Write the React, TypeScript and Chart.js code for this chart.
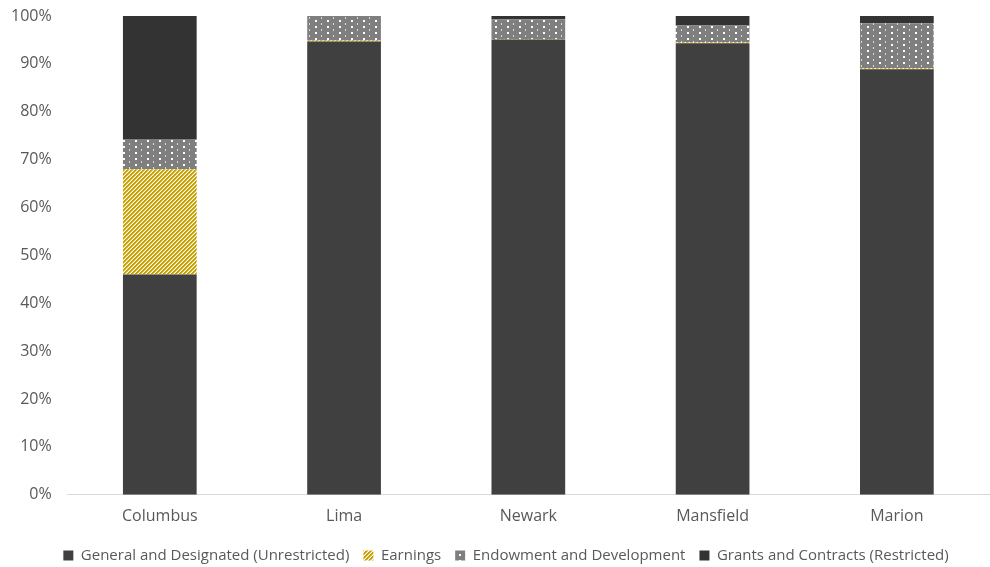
import React, { useEffect, useRef } from "react";
import { Chart, registerables } from "chart.js";

Chart.register(...registerables);

const categories = ["Columbus", "Lima", "Newark", "Mansfield", "Marion"];
const generalValues = [46.0, 94.7, 95.1, 94.3, 88.9];
const earningsValues = [22.0, 0.2, 0.1, 0.2, 0.2];
const endowmentValues = [6.3, 5.1, 4.1, 3.5, 9.4];
const grantsValues = [25.7, 0.0, 0.7, 2.0, 1.5];
const yTicks = [0, 10, 20, 30, 40, 50, 60, 70, 80, 90, 100];

function stripePattern(): CanvasPattern | string {
  const s = 4;
  const c = document.createElement("canvas");
  c.width = s;
  c.height = s;
  const ctx = c.getContext("2d");
  if (!ctx) return "#c9a000";
  for (let y = 0; y < s; y++) {
    for (let x = 0; x < s; x++) {
      const m = (x + y) % s;
      ctx.fillStyle = m < 2 ? "#c9a000" : m === 2 ? "#e2c96a" : "#ffffff";
      ctx.fillRect(x, y, 1, 1);
    }
  }
  return ctx.createPattern(c, "repeat") as CanvasPattern;
}

function dotPattern(): CanvasPattern | string {
  const c = document.createElement("canvas");
  c.width = 12;
  c.height = 12;
  const ctx = c.getContext("2d");
  if (!ctx) return "#7f7f7f";
  ctx.fillStyle = "#7f7f7f";
  ctx.fillRect(0, 0, 12, 12);
  ctx.fillStyle = "#ffffff";
  ctx.fillRect(3, 2, 2, 2);
  ctx.fillRect(3, 8, 2, 2);
  ctx.fillStyle = "rgba(255,255,255,0.7)";
  ctx.fillRect(9, 5, 1, 2);
  ctx.fillRect(9, 11, 1, 1);
  ctx.fillRect(9, 0, 1, 1);
  return ctx.createPattern(c, "repeat") as CanvasPattern;
}

const legendTweak = {
  id: "legendTweak",
  beforeInit(chart: any) {
    const legend = chart.legend;
    if (!legend) return;
    const orig = legend.fit;
    legend.fit = function () {
      orig.call(this);
      this.height += 5;
    };
  },
  afterLayout(chart: any) {
    const legend = chart.legend;
    if (!legend) return;
    legend.top -= 4;
    legend.bottom -= 4;
    legend.left += 14;
    legend.right += 14;
  },
};

export default function App() {
  const ref = useRef<HTMLCanvasElement | null>(null);
  useEffect(() => {
    document.body.style.margin = "0";
    if (!ref.current) return;
    const chart = new Chart(ref.current, {
      type: "bar",
      data: {
        labels: categories,
        datasets: [
          { label: "General and Designated (Unrestricted)", data: generalValues, backgroundColor: "#404040" },
          { label: "Earnings", data: earningsValues, backgroundColor: stripePattern() },
          { label: "Endowment and Development", data: endowmentValues, backgroundColor: dotPattern() },
          { label: "Grants and Contracts (Restricted)", data: grantsValues, backgroundColor: "#333333" },
        ],
      },
      options: {
        responsive: false,
        animation: false,
        layout: { padding: { top: 0, right: 1, left: -5, bottom: -15 } },
        datasets: { bar: { barPercentage: 0.4, categoryPercentage: 1.0 } },
        plugins: {
          tooltip: { enabled: false },
          legend: {
            position: "bottom",
            labels: {
              boxWidth: 10,
              boxHeight: 10,
              padding: 14,
              color: "#595959",
              font: { family: "'Open Sans', sans-serif", size: 15 },
            },
          },
        },
        scales: {
          x: {
            stacked: true,
            grid: { display: false, drawTicks: false },
            border: { display: true, color: "#d9d9d9" },
            ticks: {
              color: "#595959",
              padding: 12,
              font: { family: "'Open Sans', sans-serif", size: 16 },
            },
          },
          y: {
            stacked: true,
            min: 0,
            max: 100,
            afterBuildTicks: (axis: any) => {
              axis.ticks = yTicks.map((v) => ({ value: v }));
            },
            afterFit: (axis: any) => {
              axis.paddingTop = 16;
              axis.paddingBottom = 10;
            },
            grid: { display: false, drawTicks: false },
            border: { display: false },
            ticks: {
              color: "#595959",
              padding: 16,
              font: { family: "'Open Sans', sans-serif", size: 16 },
              callback: (v: any) => v + "%",
            },
          },
        },
      },
      plugins: [legendTweak],
    });
    return () => chart.destroy();
  }, []);
  return (
    <div style={{ width: 990, height: 567 }}>
      <canvas ref={ref} width={990} height={567} />
    </div>
  );
}
